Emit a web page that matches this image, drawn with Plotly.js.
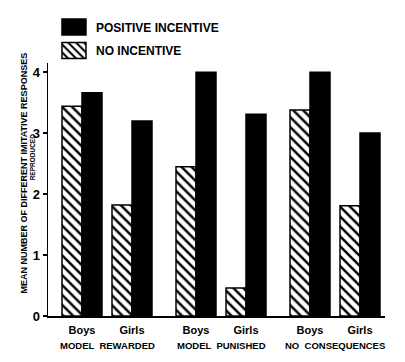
<!DOCTYPE html>
<html><head><meta charset="utf-8">
<script src="https://cdn.plot.ly/plotly-3.0.1.min.js"></script>
<style>html,body{margin:0;padding:0;background:#fff}</style>
</head><body><div id="chart" style="width:405px;height:362px"></div>
<script>
const groups = ["MODEL  REWARDED", "MODEL  PUNISHED", "NO  CONSEQUENCES"];
const sexes = ["Boys", "Girls"];
const noIncentive = [3.44, 1.82, 2.45, 0.46, 3.38, 1.81];
const positiveIncentive = [3.66, 3.20, 4.00, 3.31, 4.00, 3.00];
const yTicks = [0, 1, 2, 3, 4];
const seriesNames = ["NO INCENTIVE", "POSITIVE INCENTIVE"];
const yTitleLine1 = "MEAN NUMBER OF DIFFERENT IMITATIVE RESPONSES";
const yTitleLine2 = "REPRODUCED";

// layout: positions of the bar pairs (extra gap between groups)
const groupGap = 0.28;
const xPos = [], xLabels = [], groupCenters = [];
groups.forEach((g, gi) => {
  sexes.forEach((s, si) => { xPos.push(gi * (sexes.length + groupGap) + si); xLabels.push(s); });
  groupCenters.push(gi * (sexes.length + groupGap) + (sexes.length - 1) / 2);
});

const FONT = 'Liberation Sans, Arial, sans-serif';
const traces = [
  {type: 'bar', x: xPos, y: noIncentive, name: seriesNames[0], legendrank: 2, legendgroup: 'a',
   marker: {color: '#fff', line: {color: '#000', width: 1.5},
            pattern: {shape: '\\', fgcolor: '#000', bgcolor: '#fff', size: 7, solidity: 0.35}}},
  {type: 'bar', x: xPos, y: positiveIncentive, name: seriesNames[1], legendrank: 1, legendgroup: 'b',
   marker: {color: '#000', line: {color: '#000', width: 1.5}}}
];

const annotations = groups.map((g, i) => ({
  text: g, x: groupCenters[i], xref: 'x', y: -0.117, yref: 'paper',
  xanchor: 'center', yanchor: 'middle', showarrow: false,
  font: {family: FONT, size: 9.5, weight: 'bold', color: '#000'}
}));
annotations.push({text: yTitleLine1, textangle: -90, x: -0.072, xref: 'paper', y: 0.566, yref: 'paper',
  xanchor: 'center', yanchor: 'middle', showarrow: false,
  font: {family: FONT, size: 9, weight: 'bold', color: '#000'}});
annotations.push({text: yTitleLine2, textangle: -90, x: -0.046, xref: 'paper', y: 0.629, yref: 'paper',
  xanchor: 'center', yanchor: 'middle', showarrow: false,
  font: {family: FONT, size: 6.5, weight: 'bold', color: '#000'}});

const layout = {
  width: 405, height: 362,
  margin: {l: 48, r: 20, t: 60, b: 46},
  paper_bgcolor: '#fff', plot_bgcolor: '#fff',
  barmode: 'group', bargap: 0.2, bargroupgap: 0,
  font: {family: FONT, color: '#000'},
  showlegend: true,
  legend: {x: 0.0237, xanchor: 'left', y: 1.2, yanchor: 'top', bgcolor: 'rgba(0,0,0,0)',
           tracegroupgap: 4.5, traceorder: 'grouped',
           font: {family: FONT, size: 12, weight: 'bold', color: '#000'}},
  xaxis: {range: [-0.68, 6.06], tickvals: xPos, ticktext: xLabels, ticks: '', ticklabelstandoff: 3,
          showline: true, linecolor: '#000', linewidth: 2, showgrid: false, zeroline: false,
          tickfont: {family: FONT, size: 11, weight: 'bold', color: '#000'}, fixedrange: true},
  yaxis: {range: [0, 4.15], tickvals: yTicks, ticks: 'outside', ticklen: 4, tickwidth: 1.5, tickcolor: '#000',
          showline: true, linecolor: '#000', linewidth: 1.5, showgrid: false, zeroline: false,
          tickfont: {family: FONT, size: 13, weight: 'bold', color: '#000'}, fixedrange: true},
  annotations: annotations
};

Plotly.newPlot('chart', traces, layout, {displayModeBar: false, staticPlot: true}).then(() => {
  // enlarge the legend swatches to match the reference key boxes
  document.querySelectorAll('#chart .legend .legendpoints path').forEach(p => {
    p.setAttribute('d', 'M10,8H-14V-8H10Z');
  });
});
</script></body></html>
